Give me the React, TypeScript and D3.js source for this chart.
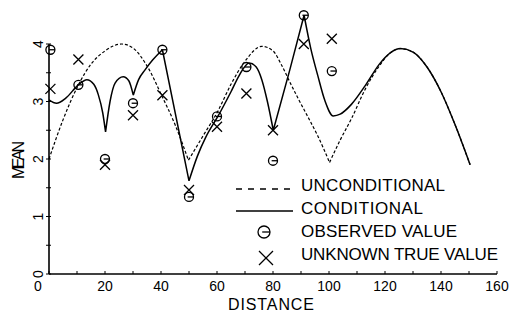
import React from "react";
import * as d3 from "d3";

// sample locations (distance) and the two point series
const sampleX = [0.5, 10.5, 20, 30, 40.5, 50, 60, 70.5, 80, 91, 101];
const observed = [3.9, 3.29, 2.0, 2.97, 3.9, 1.34, 2.74, 3.6, 1.97, 4.5, 3.53];
const trueValue = [3.22, 3.73, 1.9, 2.76, 3.11, 1.46, 2.56, 3.14, 2.5, 4.0, 4.09];

// conditional mean (solid)
const condX = [0, 2.7, 6, 10.5, 13.5, 16, 17.6, 19.2, 20.2, 21.8, 23.6, 26.5, 28.5, 30.1, 32, 34.3, 37, 40.5,
  50, 53, 56, 60.3, 65, 68, 71.5, 74, 76, 78, 80.1, 86, 91.1, 93.5, 96, 98.5, 101.5, 104, 108, 113, 118, 122,
  125.5, 130, 135, 140, 145, 150.4];
const condY = [3.03, 2.97, 3.06, 3.29, 3.38, 3.3, 3.12, 2.8, 2.47, 3.0, 3.32, 3.43, 3.36, 3.11, 3.38, 3.55, 3.72, 3.9,
  1.62, 2.05, 2.38, 2.74, 3.17, 3.46, 3.67, 3.6, 3.38, 3.0, 2.5, 3.55, 4.5, 3.92, 3.45, 3.02, 2.75, 2.78, 2.95, 3.28,
  3.65, 3.85, 3.92, 3.86, 3.6, 3.17, 2.6, 1.9];
const condCorners = [20.2, 30.1, 40.5, 50, 80.1, 91.1];

// unconditional mean (dashed)
const uncondX = [0, 5, 10.5, 15, 20, 26, 30, 35, 40.2, 45, 49.8, 55, 60.5, 65, 70, 76, 80, 83, 86, 89, 92.6, 96,
  100.2, 104, 108, 113, 118, 122, 125.5, 130, 135, 140, 145, 150.4];
const uncondY = [2.0, 2.68, 3.29, 3.65, 3.88, 4.0, 3.93, 3.62, 3.11, 2.6, 1.98, 2.4, 2.85, 3.3, 3.7, 3.96, 3.88,
  3.64, 3.34, 3.05, 2.72, 2.4, 1.94, 2.33, 2.7, 3.22, 3.62, 3.85, 3.92, 3.86, 3.6, 3.17, 2.6, 1.9];
const uncondCorners = [49.8, 100.2];

const xTicks = [0, 20, 40, 60, 80, 100, 120, 140, 160];
const yTicks = [0, 1, 2, 3, 4];
const legendLabels = ["UNCONDITIONAL", "CONDITIONAL", "OBSERVED VALUE", "UNKNOWN TRUE VALUE"];

const W = 525;
const H = 320;

function splitAt(xs: number[], ys: number[], corners: number[]) {
  const out: [number, number][][] = [];
  let cur: [number, number][] = [];
  xs.forEach((xv, i) => {
    cur.push([xv, ys[i]]);
    if (corners.includes(xv)) {
      out.push(cur);
      cur = [[xv, ys[i]]];
    }
  });
  if (cur.length > 1) out.push(cur);
  return out;
}

export default function App() {
  const x = d3.scaleLinear().domain([0, 160]).range([49, 497]);
  const y = d3.scaleLinear().domain([0, 4]).range([274, 44]);

  const line = d3
    .line<[number, number]>()
    .x((d) => x(d[0]))
    .y((d) => y(d[1]))
    .curve(d3.curveMonotoneX);

  const condPath = splitAt(condX, condY, condCorners).map((p) => line(p)).join("");
  const uncondPath = splitAt(uncondX, uncondY, uncondCorners).map((p) => line(p)).join("");

  const font = "'Liberation Sans', Arial, sans-serif";
  const legX = 236;
  const legTextX = 301;
  const rowY = [185, 208, 231, 254];
  const legWidths = [144, 122, 156, 197];

  const obsMark = (cx: number, cy: number, r: number, key: string) => (
    <g key={key}>
      <circle cx={cx} cy={cy} r={r} fill="none" stroke="#000" strokeWidth={1.3} />
      <line x1={cx - r * 0.3} x2={cx + r} y1={cy} y2={cy} stroke="#000" strokeWidth={1.3} />
    </g>
  );
  const xMark = (cx: number, cy: number, s: number, key: string) => (
    <path key={key} d={`M${cx - s},${cy - s}L${cx + s},${cy + s}M${cx - s},${cy + s}L${cx + s},${cy - s}`}
      stroke="#000" strokeWidth={1.3} fill="none" />
  );

  return (
    <div style={{ position: "fixed", left: 0, top: 0 }}>
      <svg width={W} height={H} style={{ display: "block", background: "#fff" }}>
        {/* axes */}
        <line x1={x(0)} x2={x(0)} y1={y(0)} y2={y(4)} stroke="#000" strokeWidth={1.6} />
        <line x1={x(0)} x2={x(160)} y1={y(0)} y2={y(0)} stroke="#000" strokeWidth={1.6} />
        {d3.range(0, 4.01, 0.5).map((v) => (
          <line key={"yt" + v} x1={x(0) - 3} x2={x(0) + 2} y1={y(v)} y2={y(v)} stroke="#000" strokeWidth={1} />
        ))}
        {d3.range(0, 161, 10).map((v) => (
          <line key={"xt" + v} x1={x(v)} x2={x(v)} y1={y(0)} y2={y(0) - 3} stroke="#000" strokeWidth={1} />
        ))}
        {yTicks.map((v) => (
          <text key={"yl" + v} transform={`translate(${x(0) - 11},${y(v)}) rotate(-90)`} textAnchor="middle"
            dominantBaseline="central" fontFamily={font} fontSize={14}>{v}</text>
        ))}
        {xTicks.map((v) => (
          <text key={"xl" + v} x={x(v) + (v === 0 ? -11 : 0)} y={y(0) + 12} textAnchor="middle"
            dominantBaseline="central" fontFamily={font} fontSize={14}>{v}</text>
        ))}
        <text transform={`translate(18,160) rotate(-90)`} textAnchor="middle" dominantBaseline="central"
          fontFamily={font} fontSize={16} textLength={38} lengthAdjust="spacing">MEAN</text>
        <text x={271} y={304} textAnchor="middle" dominantBaseline="central" fontFamily={font} fontSize={16}
          textLength={86} lengthAdjust="spacing">DISTANCE</text>

        {/* curves */}
        <path d={uncondPath} fill="none" stroke="#000" strokeWidth={1.2} strokeDasharray="3,2" />
        <path d={condPath} fill="none" stroke="#000" strokeWidth={1.5} />

        {/* points */}
        {sampleX.map((sx, i) => obsMark(x(sx), y(observed[i]), 4.5, "o" + i))}
        {sampleX.map((sx, i) => xMark(x(sx), y(trueValue[i]), 5, "t" + i))}

        {/* legend */}
        <line x1={legX} x2={legX + 56} y1={rowY[0] + 4} y2={rowY[0] + 4} stroke="#000" strokeWidth={1.3}
          strokeDasharray="6,6" />
        <line x1={legX} x2={legX + 57} y1={rowY[1] + 3} y2={rowY[1] + 3} stroke="#000" strokeWidth={1.5} />
        {obsMark(legX + 28, rowY[2] + 1, 6, "lo")}
        {xMark(legX + 30, rowY[3] + 4, 7, "lx")}
        {legendLabels.map((t, i) => (
          <text key={t} x={legTextX} y={rowY[i]} dominantBaseline="central" fontFamily={font} fontSize={17}
            textLength={legWidths[i]} lengthAdjust="spacing">{t}</text>
        ))}
      </svg>
    </div>
  );
}
